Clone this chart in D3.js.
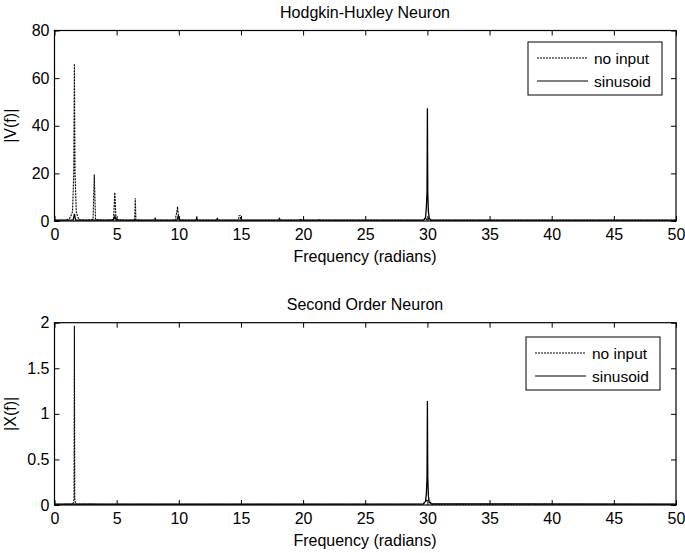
<!DOCTYPE html>
<html>
<head>
<meta charset="utf-8">
<script src="https://cdn.jsdelivr.net/npm/d3@7"></script>
<style>
  body { margin: 0; background: #fff; }
  svg text { font-family: "Liberation Sans", Arial, sans-serif; fill: #000; }
</style>
</head>
<body>
<div id="chart"></div>
<script>
// Tick labels
const xTicks = [0, 5, 10, 15, 20, 25, 30, 35, 40, 45, 50];
const hhYTicks = [0, 20, 40, 60, 80];
const soYTicks = [0, 0.5, 1, 1.5, 2];

// Hodgkin-Huxley, no input (dashed)
const hhNoInputF = [0, 0.8, 1.0, 1.2, 1.35, 1.45, 1.55, 1.6, 1.65, 1.75, 1.85, 2.0, 2.5, 3.1, 3.2, 3.3, 4.0,
  4.75, 4.85, 4.95, 5.6, 6.45, 6.5, 6.55, 7.5, 8.05, 8.1, 8.15, 9.7, 9.85, 9.9, 9.95, 10.05, 10.5,
  11.4, 11.45, 11.5, 13.05, 13.1, 13.15, 14.8, 14.85, 14.95, 15.0, 16.5, 18.05, 18.1, 18.15,
  19.75, 19.8, 19.85, 21.25, 21.3, 21.35, 25, 29.7, 29.85, 29.95, 30.05, 30.15, 30.3, 40, 50];
const hhNoInputV = [0.3, 0.3, 0.6, 1.0, 2.5, 4.0, 20, 66, 20, 4.0, 2.0, 0.5, 0.3, 0.6, 19.5, 0.6, 0.3,
  0.6, 12, 0.6, 0.3, 0.4, 9.5, 0.4, 0.3, 0.3, 1.5, 0.3, 0.3, 4.0, 6.0, 3.0, 0.5, 0.3,
  0.3, 2.0, 0.3, 0.3, 1.5, 0.3, 0.3, 2.2, 2.2, 0.3, 0.3, 0.3, 1.5, 0.3,
  0.3, 1.0, 0.3, 0.3, 0.8, 0.3, 0.3, 0.3, 1.2, 0.6, 1.2, 0.6, 0.3, 0.3, 0.3];

// Hodgkin-Huxley, sinusoid (solid)
const hhSinF = [0, 1.5, 1.6, 1.7, 4.75, 4.85, 4.95, 9.85, 9.95, 10.05, 11.4, 11.45, 11.5, 20, 29.7, 29.85,
  29.92, 29.97, 30.0, 30.03, 30.08, 30.15, 30.3, 40, 50];
const hhSinV = [0.4, 0.4, 3.0, 0.4, 0.4, 2.0, 0.4, 0.4, 2.0, 0.4, 0.4, 1.0, 0.4, 0.4, 0.4, 1.5,
  6, 12.5, 47.3, 12, 4, 1.0, 0.4, 0.4, 0.4];

// Second order, no input (dashed)
const soNoInputF = [0, 1.4, 1.5, 1.57, 1.6, 1.63, 1.7, 5, 29.6, 29.85, 30.0, 30.15, 30.4, 50];
const soNoInputX = [0.008, 0.01, 0.02, 0.06, 1.967, 0.06, 0.01, 0.008, 0.008, 0.04, 0.06, 0.04, 0.008, 0.008];

// Second order, sinusoid (solid)
const soSinF = [0, 20, 29.7, 29.85, 29.92, 29.97, 30.0, 30.03, 30.08, 30.15, 30.3, 50];
const soSinX = [0.01, 0.01, 0.012, 0.04, 0.13, 0.31, 1.14, 0.3, 0.1, 0.03, 0.012, 0.01];

const W = 685, H = 553;
const svg = d3.select("#chart").append("svg")
    .attr("width", W)
    .attr("height", H);

function drawPanel(opt) {
    const x = d3.scaleLinear().domain([0, 50]).range([54.5, 676]);
    const y = d3.scaleLinear().domain(opt.yDomain).range([opt.bottom, opt.top]);
    const g = svg.append("g");

    // inward ticks on all four sides (MATLAB box)
    const tk = 5;
    g.append("g")
        .attr("transform", `translate(0,${opt.bottom})`)
        .call(d3.axisBottom(x).tickValues(xTicks).tickSizeInner(-tk).tickSizeOuter(0).tickPadding(8))
        .call(a => a.select(".domain").remove())
        .call(a => a.selectAll("text").attr("font-size", 16).attr("font-family", "Liberation Sans, Arial, sans-serif"));
    g.append("g")
        .attr("transform", `translate(0,${opt.top})`)
        .call(d3.axisTop(x).tickValues(xTicks).tickSizeInner(-tk).tickSizeOuter(0).tickFormat(""))
        .call(a => a.select(".domain").remove());
    g.append("g")
        .attr("transform", `translate(54.5,0)`)
        .call(d3.axisLeft(y).tickValues(opt.yTicks).tickSizeInner(-tk).tickSizeOuter(0).tickPadding(5)
            .tickFormat(d => String(d)))
        .call(a => a.select(".domain").remove())
        .call(a => a.selectAll("text").attr("font-size", 16).attr("font-family", "Liberation Sans, Arial, sans-serif"));
    g.append("g")
        .attr("transform", `translate(676,0)`)
        .call(d3.axisRight(y).tickValues(opt.yTicks).tickSizeInner(-tk).tickSizeOuter(0).tickFormat(""))
        .call(a => a.select(".domain").remove());

    const line = d3.line().x(d => x(d[0])).y(d => y(d[1]));

    // sinusoid (solid)
    g.append("path")
        .datum(d3.zip(opt.sinF, opt.sinV))
        .attr("fill", "none")
        .attr("stroke", "#000")
        .attr("stroke-width", 1.3)
        .attr("d", line);

    // no input (dashed)
    g.append("path")
        .datum(d3.zip(opt.noF, opt.noV))
        .attr("fill", "none")
        .attr("stroke", "#000")
        .attr("stroke-width", 1.1)
        .attr("stroke-dasharray", "2,1")
        .attr("d", line);

    // box
    g.append("rect")
        .attr("x", 54.5).attr("y", opt.top)
        .attr("width", 676 - 54.5).attr("height", opt.bottom - opt.top)
        .attr("fill", "none").attr("stroke", "#000").attr("stroke-width", 1.2);

    // title and labels
    g.append("text")
        .attr("x", 365).attr("y", opt.top - 13)
        .attr("text-anchor", "middle").attr("font-size", 16)
        .text(opt.title);
    g.append("text")
        .attr("x", 365).attr("y", opt.bottom + 41)
        .attr("text-anchor", "middle").attr("font-size", 16)
        .text("Frequency (radians)");
    g.append("text")
        .attr("transform", `translate(16,${(opt.top + opt.bottom) / 2}) rotate(-90)`)
        .attr("text-anchor", "middle").attr("font-size", 16)
        .text(opt.yLabel);

    // legend
    const lg = g.append("g").attr("transform", `translate(${opt.legend[0]},${opt.legend[1]})`);
    lg.append("rect")
        .attr("width", 134).attr("height", 53)
        .attr("fill", "#fff").attr("stroke", "#000").attr("stroke-width", 1);
    const items = [["no input", "2,1"], ["sinusoid", null]];
    items.forEach((it, i) => {
        const yy = 16 + i * 23;
        const l = lg.append("line")
            .attr("x1", 9).attr("x2", 60).attr("y1", yy).attr("y2", yy)
            .attr("stroke", "#000").attr("stroke-width", 1.1);
        if (it[1]) l.attr("stroke-dasharray", it[1]);
        lg.append("text")
            .attr("x", 66).attr("y", yy + 5.5)
            .attr("font-size", 15.5)
            .text(it[0]);
    });
}

drawPanel({
    top: 30.5, bottom: 221, yDomain: [0, 80], yTicks: hhYTicks,
    title: "Hodgkin-Huxley Neuron", yLabel: "|V(f)|",
    noF: hhNoInputF, noV: hhNoInputV, sinF: hhSinF, sinV: hhSinV,
    legend: [528, 42]
});

drawPanel({
    top: 322.7, bottom: 505, yDomain: [0, 2], yTicks: soYTicks,
    title: "Second Order Neuron", yLabel: "|X(f)|",
    noF: soNoInputF, noV: soNoInputX, sinF: soSinF, sinV: soSinX,
    legend: [526, 337]
});
</script>
</body>
</html>
